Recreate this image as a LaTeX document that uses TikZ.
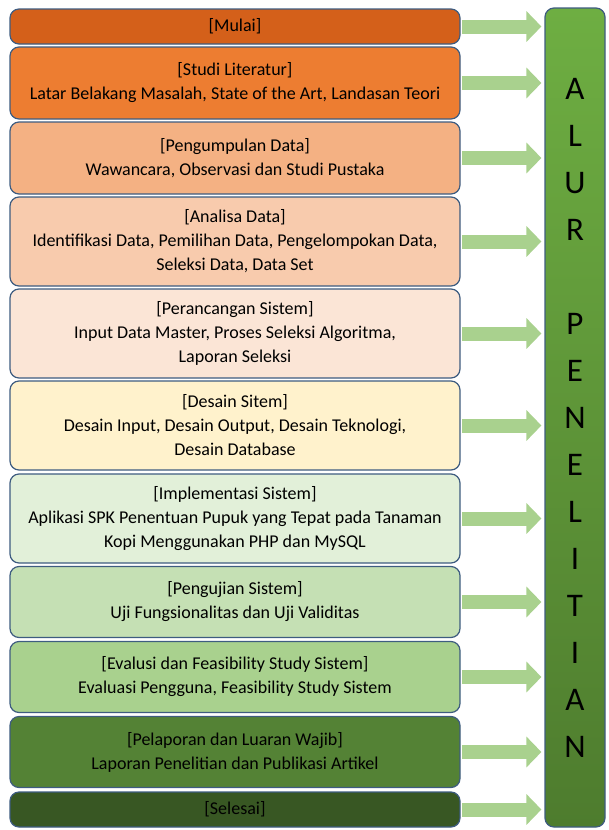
\documentclass[tikz,border=0pt]{standalone}
\usepackage{fontspec}
\setmainfont{Carlito}
\usetikzlibrary{arrows.meta}

% stage fills, dark orange down to dark green
\definecolor{stageA}{HTML}{D4601A}
\definecolor{stageB}{HTML}{ED7D31}
\definecolor{stageC}{HTML}{F4B183}
\definecolor{stageD}{HTML}{F8CBAD}
\definecolor{stageE}{HTML}{FBE5D6}
\definecolor{stageF}{HTML}{FFF2CC}
\definecolor{stageG}{HTML}{E2F0D9}
\definecolor{stageH}{HTML}{C5E0B4}
\definecolor{stageI}{HTML}{A9D18E}
\definecolor{stageJ}{HTML}{548235}
\definecolor{stageK}{HTML}{385723}
\definecolor{edgeblue}{HTML}{3E5C80}
\definecolor{arrowgreen}{HTML}{A9D18E}
\definecolor{bartop}{HTML}{6EAE42}
\definecolor{barbottom}{HTML}{4E7C2E}

\begin{document}
\begin{tikzpicture}[x=1pt, y=-1pt,
    stage/.style={draw=edgeblue, line width=1.2pt, rounded corners=9pt, align=center, minimum width=450pt, inner sep=0pt, text=black, font=\fontsize{18}{24}\selectfont},
    flow/.style={line width=14pt, draw=arrowgreen, -{Triangle[length=15pt,width=30pt]}, shorten <=1.5pt, shorten >=3pt}]
    \useasboundingbox (0,0) rectangle (608,830);
    % Stages, top to bottom
    \node[stage, fill=stageA, minimum height=35pt] (mulai) at (235,26.5) {[Mulai]};
    \node[stage, fill=stageB, minimum height=72pt] (literatur) at (235,83) {[Studi Literatur]\\Latar Belakang Masalah, State of the Art, Landasan Teori};
    \node[stage, fill=stageC, minimum height=72pt] (kumpul) at (235,158) {[Pengumpulan Data]\\Wawancara, Observasi dan Studi Pustaka};
    \node[stage, fill=stageD, minimum height=89pt] (analisa) at (235,241.5) {[Analisa Data]\\Identifikasi Data, Pemilihan Data, Pengelompokan Data,\\Seleksi Data, Data Set};
    \node[stage, fill=stageE, minimum height=89pt] (rancang) at (235,333.5) {[Perancangan Sistem]\\Input Data Master, Proses Seleksi Algoritma,\\Laporan Seleksi};
    \node[stage, fill=stageF, minimum height=89pt] (desain) at (235,425.5) {[Desain Sitem]\\Desain Input, Desain Output, Desain Teknologi,\\Desain Database};
    \node[stage, fill=stageG, minimum height=89pt] (implementasi) at (235,518.5) {[Implementasi Sistem]\\Aplikasi SPK Penentuan Pupuk yang Tepat pada Tanaman\\Kopi Menggunakan PHP dan MySQL};
    \node[stage, fill=stageH, minimum height=71pt] (uji) at (235,602) {[Pengujian Sistem]\\Uji Fungsionalitas dan Uji Validitas};
    \node[stage, fill=stageI, minimum height=71pt] (evaluasi) at (235,677) {[Evalusi dan Feasibility Study Sistem]\\Evaluasi Pengguna, Feasibility Study Sistem};
    \node[stage, fill=stageJ, minimum height=71pt] (lapor) at (235,752) {[Pelaporan dan Luaran Wajib]\\Laporan Penelitian dan Publikasi Artikel};
    \node[stage, fill=stageK, minimum height=35pt] (selesai) at (235,809.5) {[Selesai]};
    % Side bar
    \node[draw=edgeblue, line width=1.2pt, rounded corners=9pt, top color=bartop, bottom color=barbottom, minimum width=60pt, minimum height=819pt, inner sep=0pt, align=center, font=\fontsize{33}{47}\selectfont] (alur) at (575,417.5) {A\\L\\U\\R\\[47pt]P\\E\\N\\E\\L\\I\\T\\I\\A\\N};
    % Arrows into the bar
    \foreach \s in {mulai,literatur,kumpul,analisa,rancang,desain,implementasi,uji,evaluasi,lapor,selesai}
        \draw[flow] (\s.east) -- (\s.east -| alur.west);
\end{tikzpicture}
\end{document}
